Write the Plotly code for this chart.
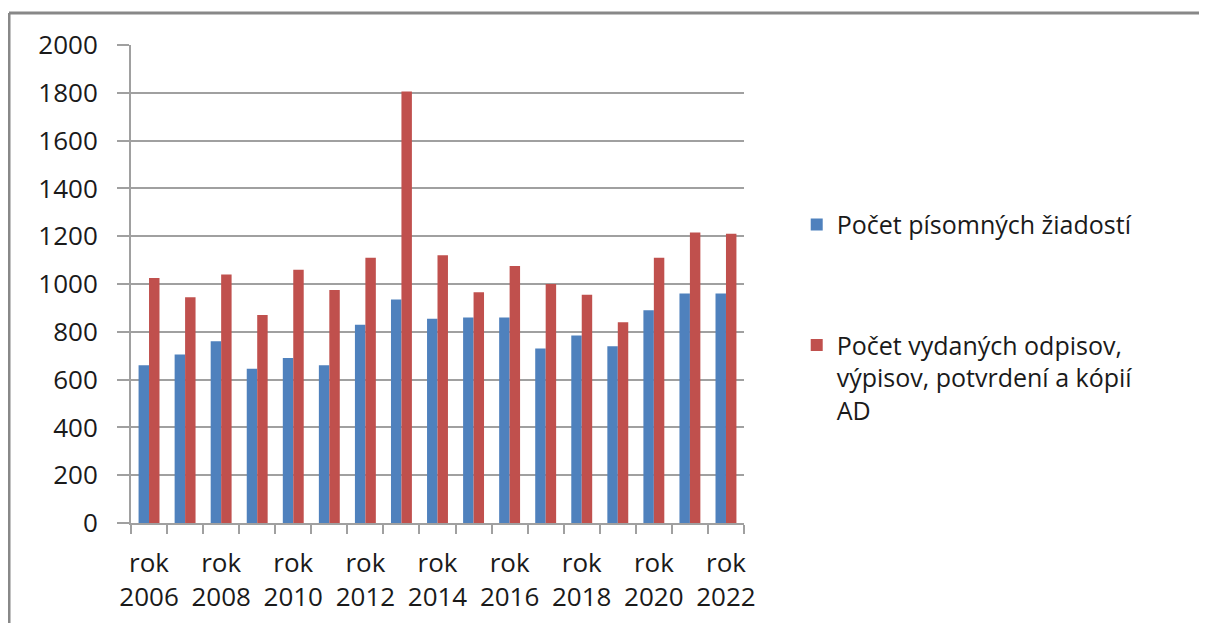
import plotly.graph_objects as go

years = list(range(2006, 2023))
ziadosti = [660, 705, 760, 645, 690, 660, 830, 935, 855, 860, 860, 730, 785, 740, 890, 960, 960]
vydane = [1025, 945, 1040, 870, 1060, 975, 1110, 1805, 1120, 965, 1075, 1000, 955, 840, 1110, 1215, 1210]
name_a = "Počet písomných žiadostí"
name_b = "Počet vydaných odpisov,<br>výpisov, potvrdení a kópií<br>AD"
tick_years = years[::2]
tick_text = ["rok<br>%d" % y for y in tick_years]
y_ticks = list(range(0, 2001, 200))

FONT = "Open Sans"
GRID = "#a0a0a0"

fig = go.Figure()
fig.add_trace(go.Bar(x=years, y=ziadosti, name=name_a, marker_color="#4F81BD",
                     marker_line_width=0, legendgroup="a"))
fig.add_trace(go.Bar(x=years, y=vydane, name=name_b, marker_color="#C0504D",
                     marker_line_width=0, legendgroup="b"))

fig.update_layout(
    width=1207, height=623,
    margin=dict(l=123, r=471, t=37, b=108),
    paper_bgcolor="white", plot_bgcolor="white",
    barmode="group", bargap=0.42, bargroupgap=0,
    font=dict(family=FONT, size=26, color="#1a1a1a"),
    showlegend=True,
    legend=dict(x=1.086, y=0.672, xanchor="left", yanchor="top",
                tracegroupgap=85, font=dict(size=25), traceorder="grouped",
                valign="top", bgcolor="rgba(0,0,0,0)"),
    xaxis=dict(range=[2005.5, 2022.5], tickmode="array", tickvals=tick_years,
               ticktext=tick_text, ticks="", showgrid=False,
               showline=True, linecolor=GRID, linewidth=2,
               ticklabelstandoff=16, automargin=False,
               minor=dict(tick0=2005.5, dtick=1, ticks="outside", ticklen=9,
                          tickcolor=GRID, tickwidth=2, showgrid=False),
               tickfont=dict(size=26), fixedrange=True),
    yaxis=dict(range=[0, 2000], tickmode="array", tickvals=y_ticks,
               showgrid=True, gridcolor=GRID, gridwidth=2,
               ticks="outside", ticklen=12, tickcolor=GRID, tickwidth=2,
               showline=True, linecolor=GRID, linewidth=2,
               ticklabelstandoff=14, zeroline=False, automargin=False,
               tickfont=dict(size=26), fixedrange=True),
    shapes=[
        dict(type="line", xref="paper", yref="paper", x0=-0.199, x1=1.77,
             y0=1.067, y1=1.067, line=dict(color="#888888", width=3)),
        dict(type="line", xref="paper", yref="paper", x0=-0.199, x1=-0.199,
             y0=1.067, y1=-0.25, line=dict(color="#888888", width=3)),
    ],
)

fig.write_html("out.html")
